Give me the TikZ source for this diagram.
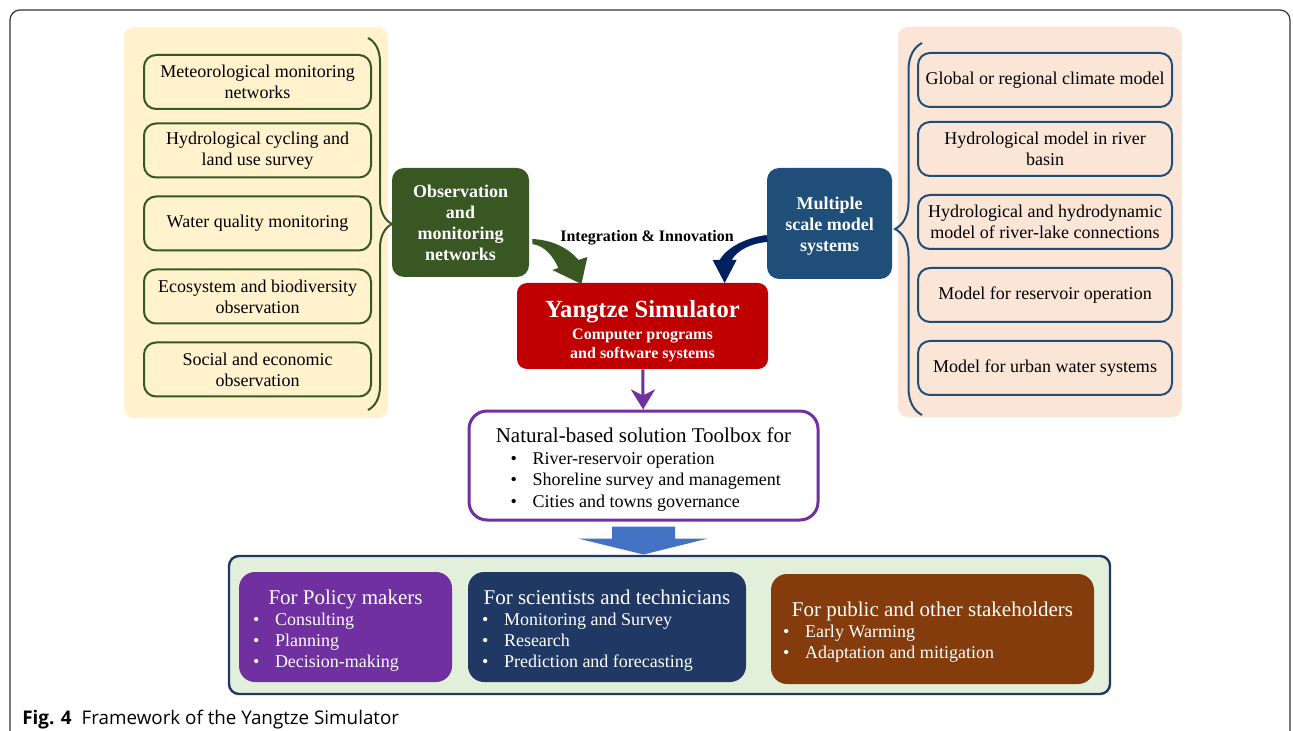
\documentclass[tikz,border=0pt]{standalone}
\usepackage{fontspec}
\setmainfont{Liberation Serif}
\newfontfamily\capfont{Open Sans}
\usetikzlibrary{arrows.meta,decorations.pathreplacing}
\definecolor{obsgreen}{HTML}{385723}
\definecolor{obspanel}{HTML}{FFF2CC}
\definecolor{modblue}{HTML}{1F4E79}
\definecolor{modpanel}{HTML}{FBE5D6}
\definecolor{simred}{HTML}{C00000}
\definecolor{tooltone}{HTML}{7030A0}
\definecolor{navyarrow}{HTML}{002060}
\definecolor{flowblue}{HTML}{4472C4}
\definecolor{userpanel}{HTML}{E2EFDA}
\definecolor{userframe}{HTML}{1F3864}
\definecolor{policy}{HTML}{7030A0}
\definecolor{science}{HTML}{203864}
\definecolor{public}{HTML}{843C0C}
\newcommand{\blt}[2][7pt]{\par\hspace*{#1}\makebox[11pt][l]{\textbullet}#2}
\tikzstyle{obsbox}=[rectangle, draw=obsgreen, line width=1pt, rounded corners=6pt, minimum width=113.5pt, minimum height=27pt, inner sep=0pt, align=center, font=\fontsize{9}{10.5}\selectfont]
\tikzstyle{modbox}=[rectangle, draw=modblue, line width=1pt, rounded corners=6pt, minimum width=127pt, minimum height=27pt, inner sep=0pt, align=center, font=\fontsize{9}{10.5}\selectfont]
\tikzstyle{hub}=[rectangle, rounded corners=6pt, inner sep=0pt, align=center, text=white, font=\bfseries\fontsize{9}{10.5}\selectfont]
\tikzstyle{userbox}=[rectangle, rounded corners=8pt, inner sep=0pt, minimum height=55pt, text=white, font=\fontsize{9}{10.5}\selectfont]

\begin{document}
\begin{tikzpicture}[x=0.5pt, y=-0.5pt]

\tikzstyle{frame}=[draw=black!80, line width=0.6pt, rounded corners=5pt]
\tikzstyle{arrow}=[-{Stealth[length=10pt, width=12pt, inset=3pt]}, draw=tooltone, line width=1.5pt]
\tikzstyle{brace}=[decorate, line width=1pt]

\useasboundingbox (0,0) rectangle (1293,731);
\draw [frame] (10,731) -- (10,10) -- (1290,10) -- (1290,731);

% observation side
\fill [obspanel, rounded corners=5pt] (124,27) rectangle (388,418);
\node (o1) [obsbox] at (257.5,82)    {Meteorological monitoring\\networks};
\node (o2) [obsbox] at (257.5,150.5) {Hydrological cycling and\\land use survey};
\node (o3) [obsbox] at (257.5,223.5) {Water quality monitoring};
\node (o4) [obsbox] at (257.5,296.5) {Ecosystem and biodiversity\\observation};
\node (o5) [obsbox] at (257.5,369.5) {Social and economic\\observation};
\draw [brace, draw=obsgreen, decoration={brace, amplitude=12pt}] (368,38) -- (368,410);

% model side
\fill [modpanel, rounded corners=5pt] (898,27) rectangle (1182,417);
\node (m1) [modbox] at (1045,80)  {Global or regional climate model};
\node (m2) [modbox] at (1045,149) {Hydrological model in river\\basin};
\node (m3) [modbox] at (1045,222) {Hydrological and hydrodynamic\\model of river-lake connections};
\node (m4) [modbox] at (1045,295) {Model for reservoir operation};
\node (m5) [modbox] at (1045,368) {Model for urban water systems};
\draw [brace, draw=modblue, decoration={brace, amplitude=13.5pt}] (922,415) -- (922,43);

% centre
\node (obs) [hub, fill=obsgreen, minimum width=68.5pt, minimum height=54.5pt] at (460.5,222.5) {Observation\\and\\monitoring\\networks};
\node (mod) [hub, fill=modblue, minimum width=62.5pt, minimum height=55.5pt] at (829.5,223.5) {\rule{0pt}{8.5pt}Multiple\\scale model\\systems};
\node (sim) [hub, fill=simred, rounded corners=5pt, minimum width=125.5pt, minimum height=43pt, font=\bfseries\fontsize{8}{9.5}\selectfont] at (642.5,326)
      {\rule{0pt}{14pt}{\fontsize{12.3}{14}\selectfont Yangtze Simulator}\\[1.5pt]Computer programs\\and software systems};
\node (int) [font=\bfseries\fontsize{8}{9.5}\selectfont, inner sep=0pt] at (647,238) {Integration \& Innovation};

\fill [obsgreen, shift={(obs.east)}] (3,16.5) .. controls (23,17.5) and (39,25.5) .. (49,37.5) -- (58,34.5) -- (52,61.5) -- (23,47.5) -- (29,45.5) .. controls (24,34.5) and (16,23.5) .. (3,21.5) -- cycle;
\fill [navyarrow, shift={(mod.west)}] (0,11.5) .. controls (-22,14.5) and (-40,24.5) .. (-47,36.5) -- (-54,36.5) -- (-42,59.5) -- (-30,36.5) -- (-35,36.5) .. controls (-29,26.5) and (-15,19.5) .. (1,18.5) -- cycle;

\node (tool) [rectangle, draw=tooltone, line width=1.5pt, rounded corners=9pt, fill=white, inner sep=0pt, minimum width=174.5pt, minimum height=54.5pt] at (643.5,465.5)
      {\parbox{173pt}{\vspace*{4pt}\fontsize{9}{10.75}\selectfont\centering{\fontsize{10.5}{12}\selectfont Natural-based solution Toolbox for}\par\raggedright
       \blt[20pt]{River-reservoir operation}\blt[20pt]{Shoreline survey and management}\blt[20pt]{Cities and towns governance}}};
\draw [arrow] (sim) -- (tool);

% users
\node (users) [rectangle, draw=userframe, fill=userpanel, line width=1.2pt, rounded corners=5pt, minimum width=440.5pt, minimum height=69pt] at (669.5,625) {};
\fill [flowblue, shift={(tool.south)}] (-31.5,5) -- (31.5,5) -- (31.5,17) -- (64.5,17) -- (0,33) -- (-65.5,17) -- (-31.5,17) -- cycle;

\node (pol) [userbox, fill=policy, minimum width=106.5pt] at (345.5,627)
      {\parbox{106.5pt}{\vspace*{4pt}\centering{\fontsize{10.5}{12}\selectfont For Policy makers}\par\raggedright
       \blt{Consulting}\blt{Planning}\blt{Decision-making}}};
\node (sci) [userbox, fill=science, minimum width=139pt] at (607,627)
      {\parbox{139pt}{\vspace*{4pt}\centering{\fontsize{10.5}{12}\selectfont For scientists and technicians}\par\raggedright
       \blt{Monitoring and Survey}\blt{Research}\blt{Prediction and forecasting}}};
\node (pub) [userbox, fill=public, minimum width=161.5pt] at (932.5,629)
      {\parbox{161.5pt}{\vspace*{3pt}\centering{\fontsize{10.5}{12}\selectfont For public and other stakeholders}\par\raggedright
       \blt[6pt]{Early Warming}\blt[6pt]{Adaptation and mitigation}}};

\node (cap) [anchor=base west, inner sep=0pt, font=\capfont\fontsize{9.4}{12}\selectfont] at (22,724) {\textbf{Fig. 4}\hspace{5pt}Framework of the Yangtze Simulator};

\end{tikzpicture}
\end{document}
